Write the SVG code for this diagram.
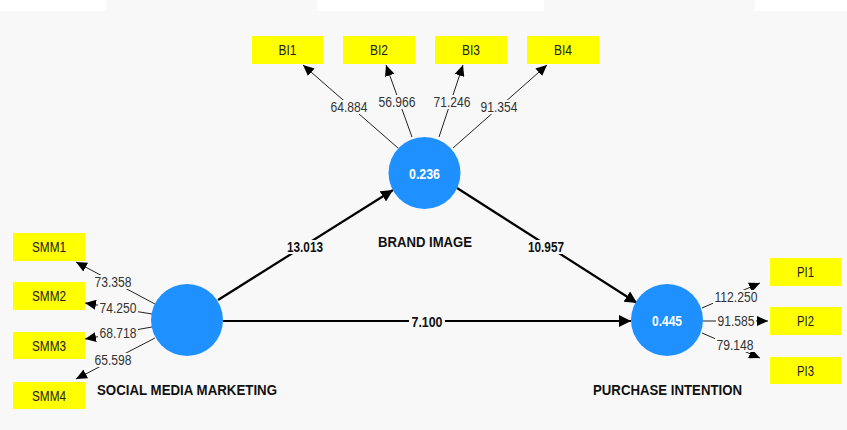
<svg xmlns="http://www.w3.org/2000/svg" width="847" height="430" viewBox="0 0 847 430">
<defs>
<marker id="ah" markerUnits="userSpaceOnUse" markerWidth="14" markerHeight="12" refX="12" refY="6" orient="auto"><path d="M0,0 L12,6 L0,12 z" fill="#000"/></marker>
<marker id="ahs" markerUnits="userSpaceOnUse" markerWidth="12" markerHeight="10" refX="11" refY="5" orient="auto"><path d="M0,0 L11,5 L0,10 z" fill="#000"/></marker>
<style>
text{font-family:"Liberation Sans",Arial,sans-serif;font-size:14px;text-anchor:middle;dominant-baseline:central}
.ind line{stroke:#222;stroke-width:1;marker-end:url(#ahs)}
.path line{stroke:#000;stroke-width:2.2;marker-end:url(#ah)}
.bg{fill:#f8f8f8}
.lbl{fill:#333}
.blbl{font-weight:bold;fill:#111}
.box{fill:#ffff00}
.bt{fill:#222}
.lv{fill:#1e90ff}
.lvt{font-weight:bold;fill:#fff}
.name{font-weight:bold;fill:#111}
</style>
</defs>
<rect width="847" height="430" fill="#f8f8f8"/>
<rect x="0" y="0" width="106" height="11" fill="#fff"/>
<rect x="317" y="0" width="227" height="11" fill="#fff"/>
<rect x="755" y="0" width="92" height="11" fill="#fff"/>

<g id="connectors">
<g class="ind">
<line x1="398" y1="148" x2="303" y2="65"/>
<line x1="412" y1="137" x2="386" y2="65"/>
<line x1="439" y1="137" x2="463" y2="65"/>
<line x1="453" y1="148" x2="547" y2="65"/>
<line x1="155" y1="304" x2="76" y2="262"/>
<line x1="152" y1="314" x2="85" y2="303"/>
<line x1="152" y1="327" x2="85" y2="339"/>
<line x1="155" y1="338" x2="76" y2="379"/>
<line x1="702" y1="308" x2="760" y2="283"/>
<line x1="703" y1="321" x2="768" y2="321"/>
<line x1="702" y1="333" x2="760" y2="358"/>
</g>
<g class="path">
<line x1="218" y1="300" x2="393" y2="190"/>
<line x1="457" y1="188" x2="637" y2="303"/>
<line x1="223" y1="321" x2="631" y2="321"/>
</g>
<g class="bg">
<rect x="329" y="100" width="40" height="14"/>
<rect x="377" y="95" width="40" height="14"/>
<rect x="432" y="95" width="40" height="14"/>
<rect x="479" y="100" width="40" height="14"/>
<rect x="93" y="275" width="40" height="14"/>
<rect x="98" y="301" width="40" height="14"/>
<rect x="98" y="326" width="40" height="14"/>
<rect x="93" y="353" width="40" height="14"/>
<rect x="713" y="290" width="46" height="14"/>
<rect x="716" y="314" width="40" height="14"/>
<rect x="715" y="338" width="40" height="14"/>
<rect x="285" y="240" width="40" height="14"/>
<rect x="526" y="240" width="40" height="14"/>
<rect x="409" y="315" width="36" height="14"/>
</g>
<text class="lbl" x="349" y="107" textLength="37" lengthAdjust="spacingAndGlyphs">64.884</text>
<text class="lbl" x="397" y="102" textLength="37" lengthAdjust="spacingAndGlyphs">56.966</text>
<text class="lbl" x="452" y="102" textLength="37" lengthAdjust="spacingAndGlyphs">71.246</text>
<text class="lbl" x="499" y="107" textLength="37" lengthAdjust="spacingAndGlyphs">91.354</text>
<text class="lbl" x="113" y="282" textLength="37" lengthAdjust="spacingAndGlyphs">73.358</text>
<text class="lbl" x="118" y="308" textLength="37" lengthAdjust="spacingAndGlyphs">74.250</text>
<text class="lbl" x="118" y="333" textLength="37" lengthAdjust="spacingAndGlyphs">68.718</text>
<text class="lbl" x="113" y="360" textLength="37" lengthAdjust="spacingAndGlyphs">65.598</text>
<text class="lbl" x="736" y="297" textLength="43" lengthAdjust="spacingAndGlyphs">112.250</text>
<text class="lbl" x="736" y="321" textLength="37" lengthAdjust="spacingAndGlyphs">91.585</text>
<text class="lbl" x="735" y="345" textLength="37" lengthAdjust="spacingAndGlyphs">79.148</text>
<text class="blbl" x="305" y="247" textLength="36" lengthAdjust="spacingAndGlyphs">13.013</text>
<text class="blbl" x="546" y="247" textLength="36" lengthAdjust="spacingAndGlyphs">10.957</text>
<text class="blbl" x="427" y="322" textLength="31" lengthAdjust="spacingAndGlyphs">7.100</text>
</g>

<g id="BI1"><rect class="box" x="252" y="36" width="71" height="28"/><text class="bt" x="287.5" y="50" textLength="18" lengthAdjust="spacingAndGlyphs">BI1</text></g>
<g id="BI2"><rect class="box" x="343" y="36" width="72" height="28"/><text class="bt" x="379" y="50" textLength="18" lengthAdjust="spacingAndGlyphs">BI2</text></g>
<g id="BI3"><rect class="box" x="435" y="36" width="72" height="28"/><text class="bt" x="471" y="50" textLength="18" lengthAdjust="spacingAndGlyphs">BI3</text></g>
<g id="BI4"><rect class="box" x="527" y="36" width="72" height="28"/><text class="bt" x="563" y="50" textLength="18" lengthAdjust="spacingAndGlyphs">BI4</text></g>

<g id="SMM1"><rect class="box" x="13" y="233" width="72" height="28"/><text class="bt" x="49" y="247" textLength="34" lengthAdjust="spacingAndGlyphs">SMM1</text></g>
<g id="SMM2"><rect class="box" x="13" y="282" width="72" height="28"/><text class="bt" x="49" y="296" textLength="34" lengthAdjust="spacingAndGlyphs">SMM2</text></g>
<g id="SMM3"><rect class="box" x="13" y="332" width="72" height="27"/><text class="bt" x="49" y="345.5" textLength="34" lengthAdjust="spacingAndGlyphs">SMM3</text></g>
<g id="SMM4"><rect class="box" x="13" y="382" width="72" height="27"/><text class="bt" x="49" y="395.5" textLength="34" lengthAdjust="spacingAndGlyphs">SMM4</text></g>

<g id="PI1"><rect class="box" x="770" y="258" width="71" height="28"/><text class="bt" x="805.5" y="272" textLength="17" lengthAdjust="spacingAndGlyphs">PI1</text></g>
<g id="PI2"><rect class="box" x="770" y="307" width="71" height="28"/><text class="bt" x="805.5" y="321" textLength="17" lengthAdjust="spacingAndGlyphs">PI2</text></g>
<g id="PI3"><rect class="box" x="770" y="357" width="71" height="27"/><text class="bt" x="805.5" y="370.5" textLength="17" lengthAdjust="spacingAndGlyphs">PI3</text></g>

<g id="BRAND_IMAGE"><circle class="lv" cx="424.5" cy="173" r="36"/><text class="lvt" x="424.5" y="174" textLength="31" lengthAdjust="spacingAndGlyphs">0.236</text><text class="name" x="425" y="242" textLength="94" lengthAdjust="spacingAndGlyphs">BRAND IMAGE</text></g>
<g id="SOCIAL_MEDIA_MARKETING"><circle class="lv" cx="187" cy="320" r="36"/><text class="name" x="187" y="390" textLength="180" lengthAdjust="spacingAndGlyphs">SOCIAL MEDIA MARKETING</text></g>
<g id="PURCHASE_INTENTION"><circle class="lv" cx="667" cy="320" r="36"/><text class="lvt" x="667" y="321" textLength="30" lengthAdjust="spacingAndGlyphs">0.445</text><text class="name" x="667.5" y="390" textLength="149" lengthAdjust="spacingAndGlyphs">PURCHASE INTENTION</text></g>
</svg>
